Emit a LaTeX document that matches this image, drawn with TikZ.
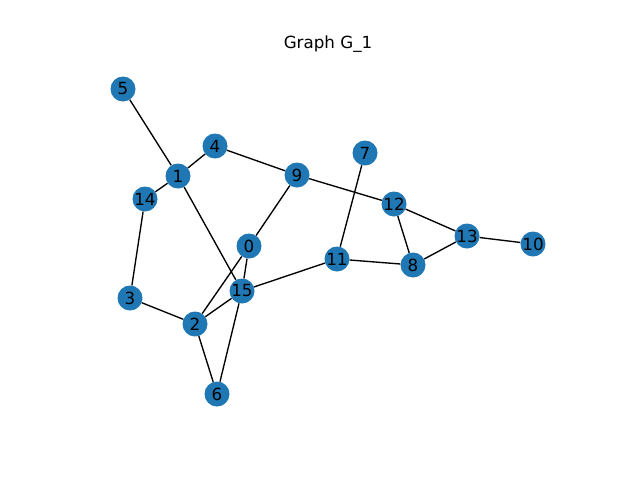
\documentclass[tikz,border=0pt]{standalone}
\usepackage{fontspec}
\setmainfont{DejaVu Sans}
\usepackage{tikz}

\definecolor{nodeblue}{HTML}{1F77B4}

\begin{document}
\begin{tikzpicture}[x=1pt, y=-1pt,
	vertex/.style={circle, fill=nodeblue, minimum size=25pt, inner sep=0pt, font=\fontsize{16.7}{20}\selectfont},
	edge/.style={draw=black, line width=1.35pt}]
		{
			\useasboundingbox (0,0) rectangle (640,480);
			\node[font=\fontsize{16.7}{20}\selectfont] (title) at (328,44) {Graph G\_1};
			\foreach \n/\x/\y in {0/249/246, 1/178/176, 2/195/324, 3/130/298,
				4/215/146, 5/123/89, 6/217/394, 7/365/153, 8/413/265,
				9/297/175, 10/533/244, 11/337/259, 12/394/204, 13/467/236,
				14/145/199, 15/242/291}
			{
				\node[vertex] (v\n) at (\x,\y) {\n};
			}
			\foreach \a/\b in {5/1, 4/1, 1/14, 4/9, 1/15, 14/3, 3/2,
				9/0, 0/2, 0/15, 15/2, 15/6, 2/6, 15/11, 9/12, 7/11,
				11/8, 12/8, 12/13, 13/8, 13/10}
			{
				\draw[edge] (v\a) -- (v\b);
			}
		}
	\end{tikzpicture}
\end{document}
